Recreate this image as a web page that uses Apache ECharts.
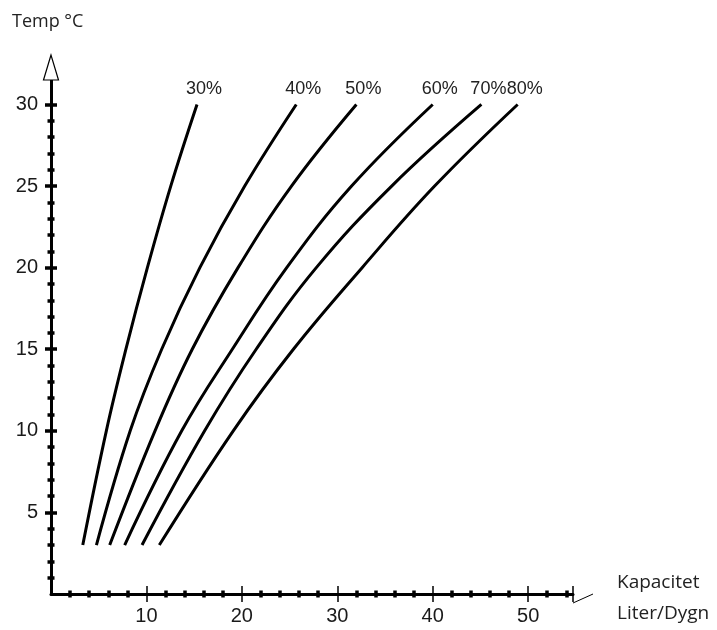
<!DOCTYPE html>
<html>
<head>
<meta charset="utf-8">
<script src="https://cdn.jsdelivr.net/npm/echarts@6/dist/echarts.min.js"></script>
<style>
html,body{margin:0;padding:0;background:#fff;}
#c{width:717px;height:630px;}
</style>
</head>
<body>
<div id="c"></div>
<script>
// ---- data ----
const Y_LEVELS = [3, 10, 15, 20, 25, 30];
const CURVE_NAMES = ['30%', '40%', '50%', '60%', '70%', '80%'];
const X_30 = [3.33, 5.8, 7.85, 10.1, 12.55, 15.3];
const X_40 = [4.76, 8.3, 11.6, 15.6, 20.3, 25.7];
const X_50 = [6.15, 10.9, 14.8, 19.6, 25.2, 32.0];
const X_60 = [7.72, 13.7, 19.0, 24.7, 31.5, 40.0];
const X_70 = [9.54, 16.1, 21.5, 27.8, 35.7, 45.1];
const X_80 = [11.35, 19.1, 25.4, 32.6, 40.2, 48.9];
const X_LABELS = [10, 20, 30, 40, 50];
const Y_LABELS = [5, 10, 15, 20, 25, 30];
const X_MIN = 0, X_MAX = 54.7;
const Y_MIN = 0, Y_MAX = 31.5;
const X_MINOR = [2,4,6,8,12,14,16,18,22,24,26,28,32,34,36,38,42,44,46,48,52,54];
const Y_MINOR = [1,2,3,4,6,7,8,9,11,12,13,14,16,17,18,19,21,22,23,24,26,27,28,29];
const Y_TITLE = 'Temp °C';
const X_TITLE_1 = 'Kapacitet';
const X_TITLE_2 = 'Liter/Dygn';

const CURVES = [X_30, X_40, X_50, X_60, X_70, X_80];

const TICK_FONT = '"Liberation Sans Narrow", "Liberation Sans", Arial, sans-serif';
const TITLE_FONT = '"Open Sans", "Noto Sans", sans-serif';

const chart = echarts.init(document.getElementById('c'), null, {renderer: 'canvas'});

function xAxisDef(opts) {
  return Object.assign({
    type: 'value', min: X_MIN, max: X_MAX, position: 'bottom', gridIndex: 0,
    axisLine: {show: false}, axisLabel: {show: false}, splitLine: {show: false},
    axisTick: {show: false}
  }, opts);
}
function yAxisDef(opts) {
  return Object.assign({
    type: 'value', min: Y_MIN, max: Y_MAX, position: 'left', gridIndex: 0,
    axisLine: {show: false}, axisLabel: {show: false}, splitLine: {show: false},
    axisTick: {show: false}
  }, opts);
}

const xMajorTicks = X_LABELS.concat([X_MAX]);

const option = {
  animation: false,
  backgroundColor: '#ffffff',
  grid: {left: 51, right: 144, top: 80, bottom: 36, containLabel: false},
  xAxis: [
    xAxisDef({
      axisLine: {show: true, lineStyle: {color: '#000', width: 3}},
      axisTick: {show: true, customValues: xMajorTicks, length: 8, lineStyle: {color: '#000', width: 1.5}},
      axisLabel: {show: true, customValues: X_LABELS, margin: 12, fontSize: 20, color: '#1a1a1a', fontFamily: TICK_FONT}
    }),
    xAxisDef({axisTick: {show: true, inside: true, customValues: xMajorTicks, length: 8, lineStyle: {color: '#000', width: 1.5}}}),
    xAxisDef({axisTick: {show: true, customValues: X_MINOR, length: 3.5, lineStyle: {color: '#000', width: 3.5}}}),
    xAxisDef({axisTick: {show: true, inside: true, customValues: X_MINOR, length: 3.5, lineStyle: {color: '#000', width: 3.5}}})
  ],
  yAxis: [
    yAxisDef({
      axisLine: {show: true, lineStyle: {color: '#000', width: 3}},
      axisTick: {show: true, customValues: Y_LABELS, length: 6, lineStyle: {color: '#000', width: 3.5}},
      axisLabel: {show: true, customValues: Y_LABELS, margin: 13, fontSize: 20, color: '#1a1a1a', fontFamily: TICK_FONT}
    }),
    yAxisDef({axisTick: {show: true, inside: true, customValues: Y_LABELS, length: 6, lineStyle: {color: '#000', width: 3.5}}}),
    yAxisDef({axisTick: {show: true, customValues: Y_MINOR, length: 3.5, lineStyle: {color: '#000', width: 3.5}}}),
    yAxisDef({axisTick: {show: true, inside: true, customValues: Y_MINOR, length: 3.5, lineStyle: {color: '#000', width: 3.5}}})
  ],
  series: CURVES.map((xs, k) => ({
    name: CURVE_NAMES[k],
    type: 'line',
    xAxisIndex: 0, yAxisIndex: 0,
    showSymbol: false,
    symbol: 'none',
    smooth: 0.4,
    lineStyle: {color: '#000', width: 3},
    data: xs.map((x, i) => [x, Y_LEVELS[i]]),
    endLabel: {
      show: true, formatter: '{a}', fontSize: 18, color: '#222', fontFamily: TICK_FONT,
      align: 'center', verticalAlign: 'bottom', distance: 7, offset: [0, -6]
    }
  }))
};
chart.setOption(option);

// decorations: hollow arrow on y axis, slanted break mark on x axis, axis titles
const yTopPt = chart.convertToPixel({gridIndex: 0}, [X_MIN, Y_MAX]);
const xEndPt = chart.convertToPixel({gridIndex: 0}, [X_MAX, Y_MIN]);
chart.setOption({
  graphic: [
    {type: 'polygon', shape: {points: [[yTopPt[0], yTopPt[1] - 25], [yTopPt[0] - 7.5, yTopPt[1]], [yTopPt[0] + 7.5, yTopPt[1]]]},
     style: {fill: '#fff', stroke: '#000', lineWidth: 1.2}, z: 100},
    {type: 'line', shape: {x1: xEndPt[0], y1: xEndPt[1] + 9, x2: xEndPt[0] + 20, y2: xEndPt[1]},
     style: {stroke: '#000', lineWidth: 1}, z: 100},
    {type: 'text', left: 12, top: 13, style: {text: Y_TITLE, fontSize: 18, fill: '#222', fontFamily: TITLE_FONT}},
    {type: 'text', left: 617, top: 573, style: {text: X_TITLE_1, fontSize: 19, fill: '#222', fontFamily: TITLE_FONT}},
    {type: 'text', left: 617, top: 604, style: {text: X_TITLE_2, fontSize: 19, fill: '#222', fontFamily: TITLE_FONT}}
  ]
});
</script>
</body>
</html>
